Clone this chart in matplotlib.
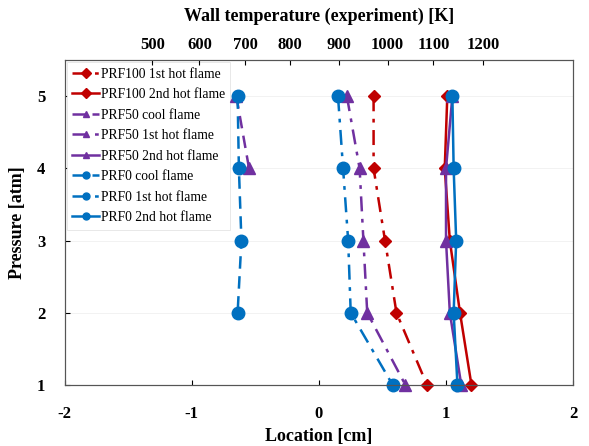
import matplotlib
matplotlib.use('Agg')
import matplotlib.pyplot as plt
import numpy as np

plt.rcParams['font.family'] = 'Liberation Serif'
plt.rcParams['axes.unicode_minus'] = False

# pressure levels [atm]
p5 = [5, 4, 3, 2, 1]

# flame locations [cm]
prf100_1st = [0.43, 0.43, 0.52, 0.61, 0.85]
prf100_2nd = [1.01, 0.99, 1.03, 1.11, 1.20]
prf50_cool = [-0.65, -0.55]
prf50_1st = [0.22, 0.32, 0.35, 0.38, 0.68]
prf50_2nd = [1.05, 1.00, 1.00, 1.03, 1.12]
prf0_cool = [-0.64, -0.63, -0.61, -0.64]
prf0_1st = [0.15, 0.19, 0.23, 0.25, 0.58]
prf0_2nd = [1.05, 1.06, 1.08, 1.06, 1.09]

# wall temperature labels and where they sit on the location axis
wall_T = [500, 600, 700, 800, 900, 1000, 1100, 1200]
wall_T_loc = [-1.31, -0.94, -0.58, -0.23, 0.16, 0.54, 0.90, 1.29]

red = '#C00000'
purple = '#7030A0'
blue = '#0070C0'
lw = 1.8
dd = (0, (6, 3, 1.5, 3))  # dash-dot

fig = plt.figure(figsize=(5.89, 4.46), dpi=100)
ax = fig.add_axes([0.110, 0.137, 0.863, 0.728])

ax.plot(prf100_1st, p5, color=red, ls=dd, lw=lw, marker='D', ms=6, label='PRF100 1st hot flame', clip_on=False)
ax.plot(prf100_2nd, p5, color=red, ls='-', lw=lw, marker='D', ms=6, label='PRF100 2nd hot flame', clip_on=False)
ax.plot(prf50_cool, p5[:2], color=purple, ls=(0, (5, 3)), lw=lw, marker='^', ms=9, label='PRF50 cool flame', clip_on=False)
ax.plot(prf50_1st, p5, color=purple, ls=dd, lw=lw, marker='^', ms=9, label='PRF50 1st hot flame', clip_on=False)
ax.plot(prf50_2nd, p5, color=purple, ls='-', lw=lw, marker='^', ms=9, label='PRF50 2nd hot flame', clip_on=False)
ax.plot(prf0_cool, p5[:4], color=blue, ls=(0, (5, 3)), lw=lw, marker='o', ms=9, label='PRF0 cool flame', clip_on=False)
ax.plot(prf0_1st, p5, color=blue, ls=dd, lw=lw, marker='o', ms=9, label='PRF0 1st hot flame', clip_on=False)
ax.plot(prf0_2nd, p5, color=blue, ls='-', lw=lw, marker='o', ms=9, label='PRF0 2nd hot flame', clip_on=False)

ax.set_xlim(-2, 2)
ax.set_ylim(1, 5.5)
ax.set_xticks([-2, -1, 0, 1, 2])
ax.set_yticks([1, 2, 3, 4, 5])
ax.yaxis.grid(True, color='#f0f0f0', lw=0.6)
ax.set_axisbelow(True)
ax.tick_params(axis='x', direction='in', labelsize=12, pad=15.5)
ax.tick_params(axis='y', direction='in', labelsize=12, pad=14)
for t in ax.get_xticklabels() + ax.get_yticklabels():
    t.set_fontweight('bold')
ax.set_xlabel('Location [cm]', fontsize=13, fontweight='bold', labelpad=4)
ax.set_ylabel('Pressure [atm]', fontsize=13, fontweight='bold', labelpad=8)
for s in ax.spines.values():
    s.set_color('#555555')

ax2 = ax.twiny()
ax2.set_xlim(ax.get_xlim())
ax2.set_xticks(wall_T_loc)
ax2.set_xticklabels([str(t) for t in wall_T], fontsize=12, fontweight='bold')
ax2.tick_params(direction='in', pad=5.5)
ax2.set_xlabel('Wall temperature (experiment) [K]', fontsize=13, fontweight='bold', labelpad=11)
for s in ax2.spines.values():
    s.set_color('#555555')

leg = ax.legend(loc='upper left', fontsize=9.8, handlelength=2.0, handletextpad=0.1,
                labelspacing=0.55, borderaxespad=0.15, fancybox=False, framealpha=1)
leg.get_frame().set_edgecolor('#e4e4e4')
leg.get_frame().set_linewidth(0.6)
leg.set_zorder(1.5)
for h in leg.legend_handles:
    h.set_markersize(5)

fig.savefig('out.png', dpi=100)
